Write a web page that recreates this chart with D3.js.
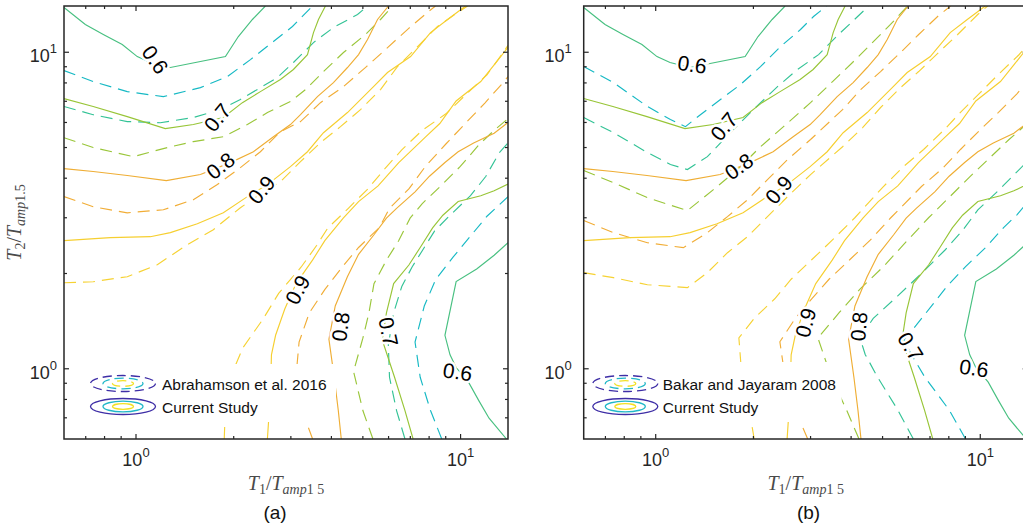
<!DOCTYPE html>
<html>
<head>
<meta charset="utf-8">
<script src="https://cdn.jsdelivr.net/npm/d3@7"></script>
<style>
body { margin: 0; background: #fff; }
svg { display: block; }
text { font-family: "Liberation Sans", Arial, sans-serif; }
.ttl { font-family: "Liberation Serif", "DejaVu Serif", serif; fill: #4a4a4a; }
</style>
</head>
<body>
<svg id="chart" width="1023" height="529"></svg>
<script>
const T_MIN = 0.6;
const T_MAX = 14;
const majorTicks = [1, 10];
const minorTicks = [0.7, 0.8, 0.9, 2, 3, 4, 5, 6, 7, 8, 9];

// contours are symmetric in T1/T2: each array is the branch above the diagonal,
// the branch below it is the same points with T1 and T2 swapped
const studyLevels = ['0.6', '0.7', '0.8', '0.9'];
const study06 = [[0.6, 13.85], [0.698, 12.24], [0.793, 11.38], [0.907, 10.58], [1.009, 9.69], [1.107, 9.28], [1.276, 8.95], [1.886, 9.69], [2.067, 11.21], [2.284, 12.69], [2.504, 14]];
const study07 = [[0.6, 7.14], [0.738, 6.74], [0.94, 6.26], [1.231, 5.74], [1.502, 5.91], [1.858, 6.22], [2.127, 6.93], [2.417, 7.51], [2.786, 8.2], [3.055, 8.82], [3.375, 9.83], [3.522, 11.54], [3.649, 12.69], [3.834, 14]];
const study08 = [[0.6, 4.29], [0.738, 4.2], [0.94, 4.08], [1.24, 3.93], [1.579, 4.11], [1.954, 4.48], [2.3, 4.85], [2.651, 5.41], [2.991, 5.91], [3.212, 6.35], [3.623, 7.24], [4.058, 8.02], [4.483, 8.95], [4.849, 9.83], [5.168, 10.97], [5.548, 12.69], [5.998, 14]];
const study09 = [[0.6, 2.54], [0.833, 2.595], [1.107, 2.614], [1.276, 2.692], [1.545, 2.873], [1.858, 3.113], [2.204, 3.498], [2.541, 3.817], [2.991, 4.35], [3.375, 4.85], [3.781, 5.57], [4.483, 6.45], [5.393, 7.79], [5.955, 8.63], [7.015, 9.69], [8.08, 11.54], [9.12, 12.69], [10.36, 14]];

// Abrahamson et al. 2016 (dashed, panel a)
const abr1 = [[0.6, 8.75], [0.738, 8.08], [0.94, 7.51], [1.214, 7.24], [1.579, 7.73], [1.912, 8.38], [2.252, 9.48], [2.651, 10.81], [3.034, 12.06], [3.497, 14]];
const abr2 = [[0.6, 6.74], [0.738, 6.35], [0.94, 6.04], [1.188, 5.99], [1.502, 6.22], [1.82, 6.59], [2.097, 7.09], [2.417, 7.73], [2.727, 8.32], [3.055, 9.28], [3.522, 10.73], [4.058, 11.97], [4.814, 13.16], [5.168, 14]];
const abr3 = [[0.6, 5.37], [0.738, 5.0], [0.981, 4.68], [1.249, 5.0], [1.502, 5.22], [1.858, 5.41], [2.204, 5.91], [2.541, 6.45], [2.991, 6.99], [3.327, 7.62], [3.781, 8.69], [4.357, 9.98], [5.095, 11.38], [5.667, 12.69], [6.17, 14]];
const abr4 = [[0.6, 3.5], [0.738, 3.25], [0.94, 3.11], [1.214, 3.18], [1.502, 3.42], [1.781, 3.82], [2.097, 4.32], [2.417, 4.85], [2.786, 5.61], [3.212, 6.04], [3.701, 6.93], [4.357, 7.79], [5.13, 9.01], [5.87, 10.2], [6.91, 11.88], [7.97, 13.45], [8.37, 14]];
const abr5 = [[0.6, 1.87], [0.738, 1.884], [0.94, 1.954], [1.163, 2.132], [1.439, 2.466], [1.731, 2.751], [2.097, 3.228], [2.452, 3.601], [2.786, 3.901], [3.212, 4.51], [3.701, 5.18], [4.266, 5.82], [4.917, 6.59], [5.667, 7.62], [6.39, 9.01], [7.37, 10.42], [8.49, 12.06], [9.79, 13.35], [10.51, 14]];

// Bakar and Jayaram 2008 (dashed, panel b)
const bakar1 = [[0.6, 9.01], [0.741, 8.02], [0.943, 6.74], [1.11, 6.13], [1.235, 5.82], [1.373, 6.35], [1.583, 7.09], [1.825, 7.91], [2.103, 9.01], [2.424, 10.42], [2.794, 11.8], [3.064, 12.97], [3.361, 14]];
const bakar2 = [[0.6, 6.22], [0.741, 5.57], [0.943, 4.82], [1.11, 4.42], [1.252, 4.26], [1.443, 4.68], [1.699, 5.57], [2.001, 6.59], [2.373, 7.79], [2.735, 8.82], [3.176, 9.83], [3.66, 11.38], [4.19, 12.97], [4.53, 14]];
const bakar3 = [[0.6, 4.23], [0.741, 3.873], [0.943, 3.472], [1.252, 3.16], [1.506, 3.68], [1.786, 4.26], [2.103, 5.03], [2.476, 5.82], [3.0, 6.93], [3.507, 8.08], [4.04, 9.28], [4.59, 10.58], [5.29, 12.24], [5.97, 14]];
const bakar4 = [[0.6, 2.94], [0.741, 2.692], [0.943, 2.502], [1.217, 2.413], [1.443, 2.692], [1.664, 3.024], [1.918, 3.42], [2.21, 3.96], [2.548, 4.58], [3.0, 5.3], [3.765, 6.59], [4.28, 7.62], [4.93, 8.69], [5.68, 9.98], [6.46, 11.38], [7.39, 12.97], [8.1, 14]];
const bakar5 = [[0.6, 2.012], [0.741, 1.94], [0.943, 1.843], [1.252, 1.804], [1.443, 2.012], [1.664, 2.327], [1.918, 2.614], [2.21, 3.024], [2.548, 3.498], [3.0, 4.107], [3.765, 5.03], [4.34, 5.78], [4.93, 6.69], [5.68, 7.73], [6.46, 8.69], [7.44, 9.98], [8.52, 11.38], [9.82, 13.16], [10.54, 14]];

// inline contour labels: [T1, T2, angle]
const labelsA = [[1.147, 9.48, 55], [1.781, 6.22, -51], [1.82, 4.38, -39], [2.434, 3.68, -50], [3.144, 1.777, -62], [4.266, 1.358, -82], [5.998, 1.309, 78], [9.79, 0.978, 8]];
const labelsB = [[1.295, 9.15, 8], [1.621, 5.83, -50], [1.803, 4.36, -35], [2.394, 3.68, -50], [2.894, 1.398, -75], [4.227, 1.36, -85], [6.1, 1.176, 58], [9.56, 1.005, 8]];
const labelText = ['0.6', '0.7', '0.8', '0.9', '0.9', '0.8', '0.7', '0.6'];

const STUDY_COLORS = ['#48c081', '#98c537', '#efae35', '#f6cf30'];
const REF_COLORS = ['#16b9c4', '#33c396', '#9ac63a', '#f1ad36', '#f6d233'];
const LEGEND_COLORS = ['#3e2ea6', '#21b8c8', '#f2e022'];
const DASH = '12,7';

const PLOT_TOP = 6;
const PLOT_BOTTOM = 439;
const PLOT_W = 444;

const svg = d3.select('#chart');

const panels = [
	{ id: 'a', left: 64, study: [study06, study07, study08, study09], ref: [abr1, abr2, abr3, abr4, abr5], labels: labelsA,
		refName: 'Abrahamson et al. 2016', legendX: 59, textX: 98, legendBg: [20, 364, 252, 58], labelGap: 7, yTitle: true, captionX: 275, caption: '(a)' },
	{ id: 'b', left: 583.7, study: [study06, study07, study08, study09], ref: [bakar1, bakar2, bakar3, bakar4, bakar5], labels: labelsB,
		refName: 'Bakar and Jayaram 2008', legendX: 41.6, textX: 79, legendBg: [6, 362, 252, 60], labelGap: 12, yTitle: false, captionX: 808.5, caption: '(b)' }
];

function tickLabel(sel, exp) {
	sel.append('tspan').text('10');
	sel.append('tspan').attr('font-size', 13).attr('dy', -9).text(exp);
}

function drawPanel(p) {
	const x = d3.scaleLog().domain([T_MIN, T_MAX]).range([p.left, p.left + PLOT_W]);
	const y = d3.scaleLog().domain([T_MIN, T_MAX]).range([PLOT_BOTTOM, PLOT_TOP]);
	const g = svg.append('g');

	svg.append('clipPath').attr('id', `clip-${p.id}`)
		.append('rect')
		.attr('x', x(T_MIN)).attr('y', y(T_MAX))
		.attr('width', x(T_MAX) - x(T_MIN)).attr('height', y(T_MIN) - y(T_MAX));
	const plot = g.append('g').attr('clip-path', `url(#clip-${p.id})`);

	const upper = d3.line().x(d => x(d[0])).y(d => y(d[1]));
	const lower = d3.line().x(d => x(d[1])).y(d => y(d[0]));

	p.ref.forEach((pts, i) => {
		[upper, lower].forEach(l => {
			plot.append('path')
				.attr('d', l(pts))
				.attr('fill', 'none')
				.attr('stroke', REF_COLORS[i])
				.attr('stroke-width', 1.15)
				.attr('stroke-dasharray', DASH);
		});
	});
	p.study.forEach((pts, i) => {
		[upper, lower].forEach(l => {
			plot.append('path')
				.attr('d', l(pts))
				.attr('fill', 'none')
				.attr('stroke', STUDY_COLORS[i])
				.attr('stroke-width', 1.15);
		});
	});

	p.labels.forEach((d, i) => {
		plot.append('text')
			.attr('transform', `translate(${x(d[0])},${y(d[1])}) rotate(${d[2]})`)
			.attr('text-anchor', 'middle')
			.attr('dominant-baseline', 'central')
			.attr('font-size', 21)
			.attr('stroke', '#fff')
			.attr('stroke-width', 5)
			.attr('paint-order', 'stroke')
			.attr('fill', '#000')
			.text(labelText[i]);
	});

	// legend (white background hides the contours behind it)
	const lg = g.append('g').attr('transform', `translate(${p.left},0)`);
	const bg = p.legendBg;
	lg.append('rect').attr('x', bg[0]).attr('y', bg[1]).attr('width', bg[2]).attr('height', bg[3]).attr('fill', '#fff');
	const rows = [{ name: p.refName, cy: 383.5, dash: '9,5' }, { name: 'Current Study', cy: 406.5, dash: null }];
	const radii = [[32.5, 8], [20, 5.3], [10.5, 2.8]];
	rows.forEach(r => {
		radii.forEach((rr, k) => {
			lg.append('ellipse')
				.attr('cx', p.legendX).attr('cy', r.cy)
				.attr('rx', rr[0]).attr('ry', rr[1])
				.attr('fill', 'none')
				.attr('stroke', LEGEND_COLORS[k])
				.attr('stroke-width', 1.3)
				.attr('stroke-dasharray', r.dash);
		});
		lg.append('text')
			.attr('x', p.textX).attr('y', r.cy + 6)
			.attr('font-size', 15.5)
			.attr('fill', '#111')
			.text(r.name);
	});

	// frame and ticks
	const axisColor = '#262626';
	const frame = g.append('g').attr('stroke', axisColor).attr('stroke-width', 1.5).attr('fill', 'none');
	frame.append('rect')
		.attr('x', x(T_MIN)).attr('y', y(T_MAX))
		.attr('width', x(T_MAX) - x(T_MIN)).attr('height', y(T_MIN) - y(T_MAX));

	const ticks = majorTicks.map(v => ({ v, len: 5 })).concat(minorTicks.map(v => ({ v, len: 3 })));
	const tk = g.append('g').attr('stroke', axisColor).attr('stroke-width', 1.2);
	ticks.forEach(t => {
		const px = x(t.v);
		const py = y(t.v);
		tk.append('line').attr('x1', px).attr('x2', px).attr('y1', PLOT_BOTTOM).attr('y2', PLOT_BOTTOM - t.len);
		tk.append('line').attr('x1', px).attr('x2', px).attr('y1', PLOT_TOP).attr('y2', PLOT_TOP + t.len);
		tk.append('line').attr('x1', x(T_MIN)).attr('x2', x(T_MIN) + t.len).attr('y1', py).attr('y2', py);
		tk.append('line').attr('x1', x(T_MAX)).attr('x2', x(T_MAX) - t.len).attr('y1', py).attr('y2', py);
	});

	majorTicks.forEach((v, i) => {
		g.append('text')
			.attr('x', x(v)).attr('y', 466)
			.attr('text-anchor', 'middle')
			.attr('font-size', 18)
			.attr('fill', axisColor)
			.call(tickLabel, i);
		g.append('text')
			.attr('x', x(T_MIN) - p.labelGap).attr('y', y(v) + 10)
			.attr('text-anchor', 'end')
			.attr('font-size', 18)
			.attr('fill', axisColor)
			.call(tickLabel, i);
	});

	// x title: T_1 / T_amp1 5
	const xt = g.append('text')
		.attr('class', 'ttl')
		.attr('x', (x(T_MIN) + x(T_MAX)) / 2).attr('y', 490)
		.attr('text-anchor', 'middle')
		.attr('font-size', 20);
	xt.append('tspan').attr('font-style', 'italic').text('T');
	xt.append('tspan').attr('font-size', 14).attr('dy', 4).text('1');
	xt.append('tspan').attr('dy', -4).text('/');
	xt.append('tspan').attr('font-style', 'italic').text('T');
	xt.append('tspan').attr('font-size', 14).attr('dy', 4).attr('font-style', 'italic').text('amp');
	xt.append('tspan').attr('font-size', 14).text('1 5');

	if (p.yTitle) {
		const yt = g.append('text')
			.attr('class', 'ttl')
			.attr('transform', `translate(21,${(y(T_MIN) + y(T_MAX)) / 2}) rotate(-90)`)
			.attr('text-anchor', 'middle')
			.attr('font-size', 20);
		yt.append('tspan').attr('font-style', 'italic').text('T');
		yt.append('tspan').attr('font-size', 14).attr('dy', 4).text('2');
		yt.append('tspan').attr('dy', -4).text('/');
		yt.append('tspan').attr('font-style', 'italic').text('T');
		yt.append('tspan').attr('font-size', 14).attr('dy', 4).attr('font-style', 'italic').text('amp');
		yt.append('tspan').attr('font-size', 14).text('1.5');
	}

	g.append('text')
		.attr('x', p.captionX).attr('y', 519)
		.attr('text-anchor', 'middle')
		.attr('font-size', 19)
		.attr('fill', '#111')
		.text(p.caption);
}

panels.forEach(drawPanel);
</script>
</body>
</html>
